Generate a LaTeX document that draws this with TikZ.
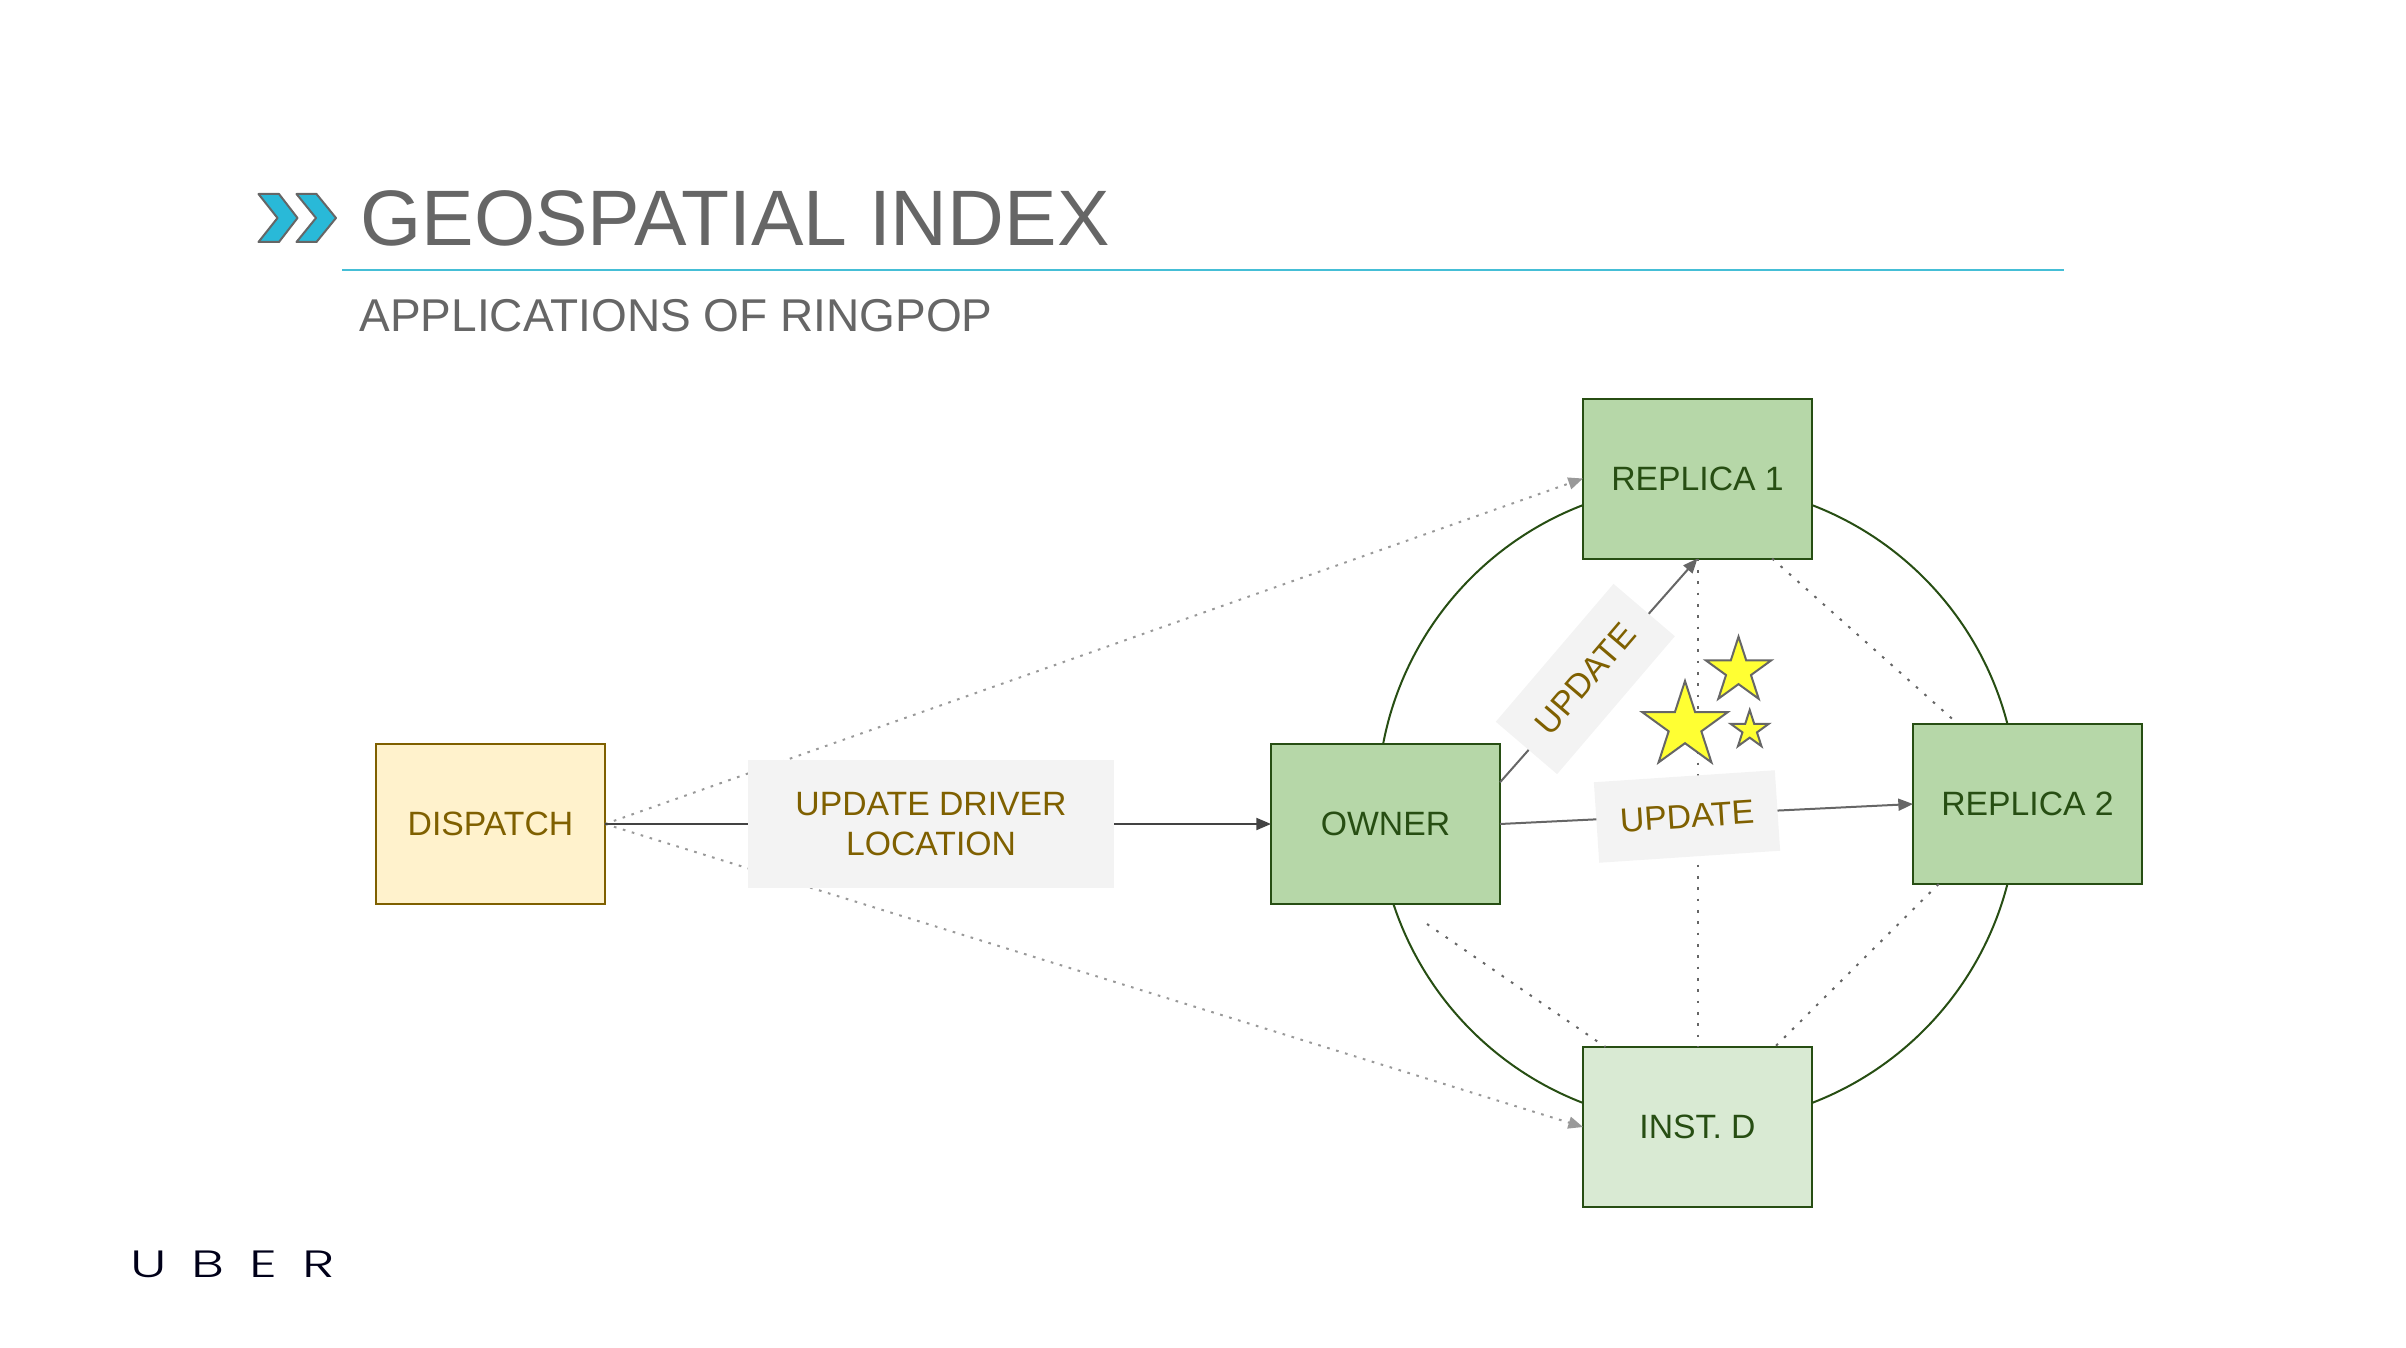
\documentclass[tikz,border=0pt]{standalone}
\usepackage{fontspec}
\usetikzlibrary{arrows.meta,shapes.geometric}
\setmainfont{Liberation Sans}
\newfontfamily\uberfont[LetterSpace=66,FakeStretch=1.45,UprightFont=* Light]{Poppins}

\definecolor{titlegray}{RGB}{102,102,102}
\definecolor{ruleblue}{RGB}{69,190,214}
\definecolor{chevronblue}{RGB}{41,185,216}
\definecolor{darkgreen}{RGB}{39,78,19}
\definecolor{boxgreen}{RGB}{182,215,168}
\definecolor{palegreen}{RGB}{217,234,211}
\definecolor{darkamber}{RGB}{127,96,0}
\definecolor{paleamber}{RGB}{255,242,204}
\definecolor{labelgray}{RGB}{243,243,243}
\definecolor{stargold}{RGB}{255,255,51}
\definecolor{dotgray}{RGB}{153,153,153}
\definecolor{solidgray}{RGB}{67,67,67}

\tikzset{every picture/.style={line width=0.75pt}}
\tikzset{
	boxnode/.style={draw=darkgreen,line width=1.5pt,fill=boxgreen,text=darkgreen,minimum width=171.75pt,minimum height=120pt,inner sep=0pt,outer sep=0pt,font=\fontsize{25.3}{30}\selectfont},
	labelnode/.style={fill=labelgray,text=darkamber,minimum width=136pt,minimum height=60.5pt,inner sep=0pt,outer sep=0pt,align=center,font=\fontsize{25.3}{30}\selectfont},
	starnode/.style={star,star points=5,star point ratio=2.618,draw=titlegray,line width=1.5pt,fill=stargold,inner sep=0pt,outer sep=0pt},
	dotline/.style={dotgray,line width=1.5pt,dash pattern=on 2pt off 5pt},
	dotarrow/.style={dotline,-{Triangle[length=11pt,width=9pt,fill=dotgray]}},
	ringline/.style={titlegray,line width=1.5pt,dash pattern=on 2pt off 6.5pt},
	updatearrow/.style={titlegray,line width=1.5pt,-{Triangle[length=11pt,width=9pt]}},
	chevron/.style={draw=titlegray,line width=1.5pt,fill=chevronblue,line join=round}
}

\begin{document}
\begin{tikzpicture}[x=0.75pt,y=0.75pt,yscale=-1]
	\useasboundingbox (0,0) rectangle (2406,1348);

	% Title
	\draw [chevron] (258.5,194) -- (279,194) -- (297.5,218) -- (279,242) -- (258.5,242) -- (277.5,218) -- cycle ;
	\draw [chevron] (296.5,194) -- (316.5,194) -- (336,218) -- (316.5,242) -- (296.5,242) -- (316,218) -- cycle ;
	\node (title) [anchor=base west,inner sep=0pt,text=titlegray,font=\fontsize{59}{60}\selectfont] at (360,246) {GEOSPATIAL INDEX};
	\coordinate (rulestart) at (342,270);
	\coordinate (ruleend) at (2064,270);
	\draw [ruleblue,line width=1.5pt] (rulestart) -- (ruleend);
	\node (subtitle) [anchor=base west,inner sep=0pt,text=titlegray,font=\fontsize{34.5}{36}\selectfont] at (359,331) {APPLICATIONS OF RINGPOP};

	% Ring
	\node (ring) [circle,draw=darkgreen,line width=1.5pt,minimum size=480pt,inner sep=0pt,outer sep=0pt] at (1697.5,804) {};

	% Boxes
	\node (dispatch) [boxnode,draw=darkamber,fill=paleamber,text=darkamber] at (490.5,824) {DISPATCH};
	\node (owner) [boxnode] at (1385.5,824) {OWNER};
	\node (replicaone) [boxnode] at (1697.5,478.5) {REPLICA 1};
	\node (replicatwo) [boxnode] at (2027.5,804) {REPLICA 2};
	\node (instd) [boxnode,fill=palegreen] at (1697.5,1127) {INST. D};

	% Dotted links
	\draw [dotarrow] (dispatch.east) -- (replicaone.west);
	\draw [dotarrow] (dispatch.east) -- (instd.west);
	\draw [ringline] (replicaone.south) -- (instd.north);
	\draw [ringline] (replicaone.-47) -- (replicatwo.131);
	\draw [ringline] (replicatwo.222) -- (instd.46);
	\coordinate (ownerlow) at (1427,924);
	\draw [ringline] (ownerlow) -- (instd.139);

	% Solid links
	\draw [solidgray,line width=1.5pt,-{Triangle[length=11pt,width=9pt]}] (dispatch.east) -- (owner.west);
	\draw [updatearrow] (owner.20) -- (replicaone.south);
	\draw [updatearrow] (owner.east) -- (replicatwo.west);

	% Labels
	\node (driverlabel) [labelnode,minimum width=275pt,minimum height=96pt] at (931,824) {UPDATE DRIVER\\LOCATION};
	\node (upupdate) [labelnode,rotate=49.5] at (1585.3,679) {UPDATE};
	\node (sideupdate) [labelnode,rotate=3.8] at (1687,816.5) {UPDATE};

	% Stars
	\node (starbig) [starnode,minimum size=67.5pt] at (1685,726) {};
	\node (starmid) [starnode,minimum size=51.5pt] at (1738.5,671) {};
	\node (starsmall) [starnode,minimum size=30pt] at (1749.7,730) {};

	% Logo
	\node (uber) [anchor=base west,inner sep=0pt,text=black!90!blue,font=\uberfont\fontsize{28.5}{30}\selectfont] at (130,1277) {UBER};
\end{tikzpicture}
\end{document}
